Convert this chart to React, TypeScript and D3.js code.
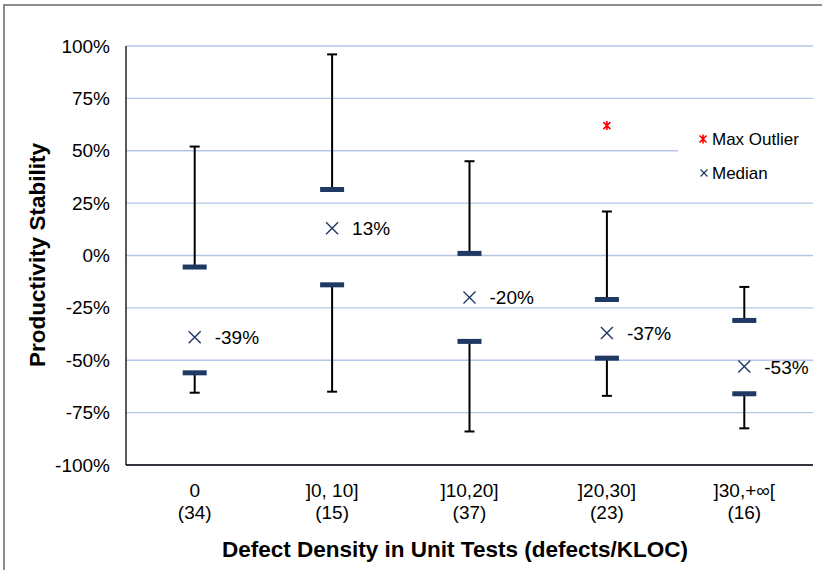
import React from "react";
import * as d3 from "d3";

// Categories of defect density and sample sizes
const categories = ["0", "]0, 10]", "]10,20]", "]20,30]", "]30,+∞["];
const counts = [34, 15, 37, 23, 16];

// Box statistics per category (fractions)
const maxValues = [0.52, 0.96, 0.45, 0.21, -0.15];
const q3Values = [-0.055, 0.315, 0.01, -0.21, -0.31];
const medianValues = [-0.39, 0.13, -0.2, -0.37, -0.53];
const q1Values = [-0.56, -0.14, -0.41, -0.49, -0.66];
const minValues = [-0.655, -0.65, -0.84, -0.67, -0.825];
// Max outlier per category (null where none)
const outlierValues: (number | null)[] = [null, null, null, 0.62, null];

const yTicks = [1, 0.75, 0.5, 0.25, 0, -0.25, -0.5, -0.75, -1];

const W = 822;
const H = 570;
const left = 126;
const right = 813;
const top = 46;
const bottom = 465;
const navy = "#1f3864";
const font = "Arial, 'Liberation Sans', sans-serif";

export default function App() {
  const x = d3.scaleBand<string>().domain(categories).range([left, right]);
  const y = d3.scaleLinear().domain([-1, 1]).range([bottom, top]);
  const fmt = (v: number) => d3.format(".0%")(v).replace("\u2212", "-");
  const cx = (c: string) => (x(c) ?? 0) + x.bandwidth() / 2;

  const cross = (px: number, py: number, s: number) =>
    `M${px - s},${py - s}L${px + s},${py + s}M${px - s},${py + s}L${px + s},${py - s}`;

  return (
    <svg
      width={W}
      height={H}
      style={{ position: "absolute", left: 0, top: 0, fontFamily: font }}
    >
      <rect width={W} height={H} fill="#fff" />
      {/* outer chart border */}
      <path d={`M4,${H}V5H${W}`} fill="none" stroke="#8c8c8c" strokeWidth={2} />

      {/* gridlines */}
      {yTicks.map((t) => (
        <line
          key={t}
          x1={left}
          x2={right}
          y1={y(t)}
          y2={y(t)}
          stroke="#b4c7e7"
          strokeWidth={1.3}
        />
      ))}

      {/* legend box background */}
      <rect x={678} y={118} width={135} height={70} fill="#fff" />
      <path
        d={`${cross(703, 139, 3.5)}M703,134.5V143.5`}
        stroke="#ff0000"
        strokeWidth={1.6}
      />
      <text x={712} y={145} fontSize={17} fill="#000">
        Max Outlier
      </text>
      <path d={cross(704, 173, 3.5)} stroke={navy} strokeWidth={1.2} />
      <text x={712} y={179} fontSize={17} fill="#000">
        Median
      </text>

      {/* axes lines */}
      <line x1={left} x2={left} y1={top} y2={bottom} stroke="#000" strokeWidth={1.3} />
      <line x1={left} x2={right} y1={bottom} y2={bottom} stroke="#000" strokeWidth={1.3} />

      {/* y tick labels */}
      {yTicks.map((t) => (
        <text
          key={t}
          x={110}
          y={y(t) + 6.5}
          textAnchor="end"
          fontSize={19}
          fill="#000"
        >
          {fmt(t)}
        </text>
      ))}

      {/* boxes */}
      {categories.map((c, i) => {
        const px = cx(c);
        const capW = 5;
        return (
          <g key={c}>
            <line x1={px} x2={px} y1={y(maxValues[i])} y2={y(q3Values[i])} stroke="#000" strokeWidth={2} />
            <line x1={px} x2={px} y1={y(q1Values[i])} y2={y(minValues[i])} stroke="#000" strokeWidth={2} />
            <line x1={px - capW} x2={px + capW} y1={y(maxValues[i])} y2={y(maxValues[i])} stroke="#000" strokeWidth={2} />
            <line x1={px - capW} x2={px + capW} y1={y(minValues[i])} y2={y(minValues[i])} stroke="#000" strokeWidth={2} />
            <rect x={px - 12} y={y(q3Values[i]) - 2.5} width={24} height={5} fill={navy} />
            <rect x={px - 12} y={y(q1Values[i]) - 2.5} width={24} height={5} fill={navy} />
            <path d={cross(px, y(medianValues[i]), 6)} stroke={navy} strokeWidth={1.4} />
            <text x={px + 20} y={y(medianValues[i]) + 7} fontSize={19} fill="#000">
              {fmt(medianValues[i])}
            </text>
            {outlierValues[i] !== null && (
              <path
                d={`${cross(px, y(outlierValues[i] as number), 3.5)}M${px},${y(outlierValues[i] as number) - 4.5}V${y(outlierValues[i] as number) + 4.5}`}
                stroke="#ff0000"
                strokeWidth={1.6}
              />
            )}
            <text x={px} y={497} textAnchor="middle" fontSize={19} fill="#000">
              {c}
            </text>
            <text x={px} y={519} textAnchor="middle" fontSize={19} fill="#000">
              ({counts[i]})
            </text>
          </g>
        );
      })}

      {/* axis titles */}
      <text x={455} y={557} textAnchor="middle" fontSize={22.5} fontWeight="bold" fill="#000">
        Defect Density in Unit Tests (defects/KLOC)
      </text>
      <text
        transform={`translate(45,255) rotate(-90)`}
        textAnchor="middle"
        fontSize={22.5}
        fontWeight="bold"
        fill="#000"
      >
        Productivity Stability
      </text>
    </svg>
  );
}
